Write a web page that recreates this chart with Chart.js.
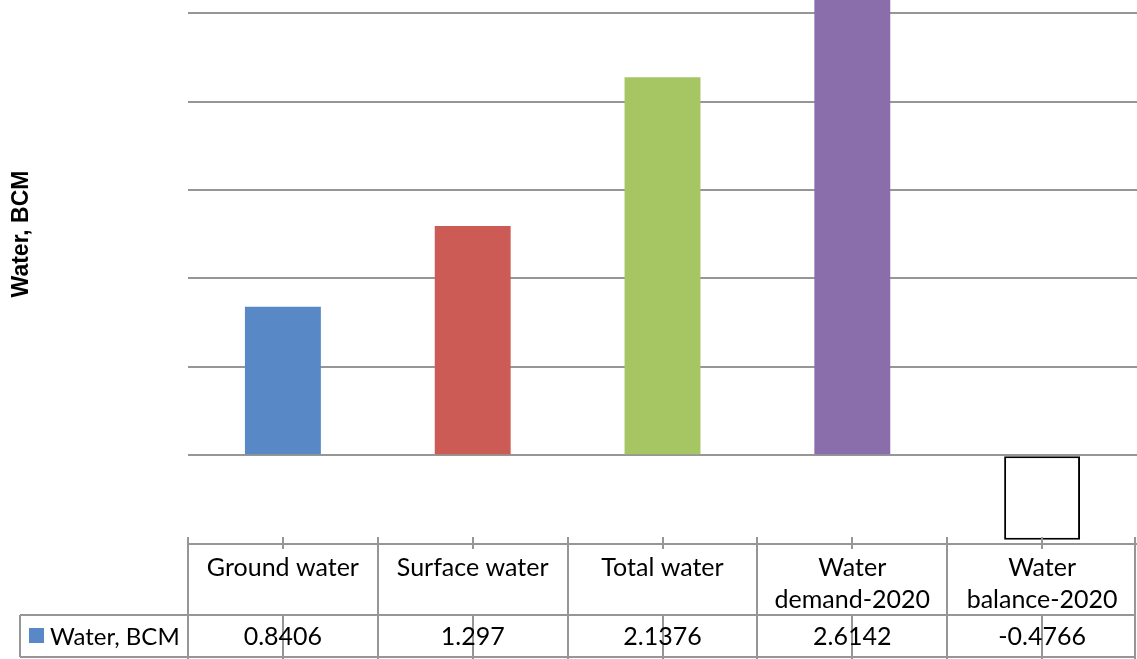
<!DOCTYPE html>
<html>
<head>
<meta charset="utf-8">
<script src="https://cdn.jsdelivr.net/npm/chart.js@4/dist/chart.umd.min.js"></script>
<style>
  html, body { margin: 0; padding: 0; background: #ffffff; }
  #c { display: block; }
</style>
</head>
<body>
<canvas id="c" width="1137" height="659" style="width:1137px;height:659px"></canvas>
<script>
// ---- data ----
const categories = [["Ground water"], ["Surface water"], ["Total water"], ["Water", "demand-2020"], ["Water", "balance-2020"]];
const seriesName = "Water, BCM";
const values = [0.8406, 1.297, 2.1376, 2.6142, -0.4766];
const valueLabels = ["0.8406", "1.297", "2.1376", "2.6142", "-0.4766"];
const yTicks = [-0.5, 0, 0.5, 1, 1.5, 2, 2.5];
const yTitle = "Water, BCM";
const barColors = ["#5889C6", "#CC5B56", "#A5C663", "#8A6DAB", "#FFFFFF"];
const legendColor = "#5889C6";

const GRID = "#969696";
const TABLE_FONT = "Lato";

const yTitlePlugin = {
  id: "yTitlePlugin",
  afterDraw(chart) {
    const ctx = chart.ctx;
    ctx.save();
    ctx.translate(22, 234);
    ctx.rotate(-Math.PI / 2);
    ctx.font = "bold 23px 'Liberation Sans', Arial, sans-serif";
    ctx.fillStyle = "#000";
    ctx.textAlign = "center";
    ctx.textBaseline = "middle";
    ctx.fillText(yTitle, 0, 0);
    ctx.restore();
  }
};

const tablePlugin = {
  id: "tablePlugin",
  afterDraw(chart) {
    const ctx = chart.ctx;
    const x = chart.scales.x;
    const area = chart.chartArea;
    const n = categories.length;
    const half = (x.getPixelForValue(1) - x.getPixelForValue(0)) / 2;
    const top = Math.round(area.bottom);
    const rowY = 615;
    const bottom = 657;
    const legendLeft = 20;
    ctx.save();
    ctx.strokeStyle = GRID;
    ctx.lineWidth = 2;
    const line = (x1, y1, x2, y2) => { ctx.beginPath(); ctx.moveTo(x1, y1); ctx.lineTo(x2, y2); ctx.stroke(); };
    const left = x.getPixelForValue(0) - half;
    const right = Math.min(chart.width - 2, x.getPixelForValue(n - 1) + half);
    line(left, top, right, top);
    line(legendLeft, rowY, right, rowY);
    line(legendLeft, bottom, right, bottom);
    line(legendLeft, rowY, legendLeft, bottom);
    for (let i = 0; i <= n; i++) {
      const bx = Math.min(Math.round(right), Math.round(x.getPixelForValue(0) - half + i * 2 * half));
      line(bx, top - 7, bx, 659);
    }
    for (let i = 0; i < n; i++) {
      const cx = Math.round(x.getPixelForValue(i));
      line(cx, top - 7, cx, top + 5);
      line(cx, rowY + 1, cx, 659);
    }
    // values
    ctx.fillStyle = "#000";
    ctx.font = "25px " + TABLE_FONT;
    ctx.textAlign = "center";
    ctx.textBaseline = "middle";
    for (let i = 0; i < n; i++) {
      ctx.fillText(valueLabels[i], x.getPixelForValue(i), 637);
    }
    // legend
    ctx.fillStyle = legendColor;
    ctx.fillRect(29, 628, 15, 15);
    ctx.fillStyle = "#000";
    ctx.font = "24px " + TABLE_FONT;
    ctx.textAlign = "left";
    ctx.fillText(seriesName, 50, 637);
    ctx.restore();
  }
};

new Chart(document.getElementById("c"), {
  type: "bar",
  data: {
    labels: categories,
    datasets: [{
      label: seriesName,
      data: values,
      backgroundColor: barColors,
      borderColor: "#000000",
      borderWidth: [0, 0, 0, 0, 2],
      borderSkipped: false,
      barPercentage: 0.4,
      categoryPercentage: 1
    }]
  },
  options: {
    responsive: false,
    animation: false,
    devicePixelRatio: 1,
    layout: { padding: { left: 188, right: -2, top: 0, bottom: 34 } },
    plugins: { legend: { display: false }, tooltip: { enabled: false }, title: { display: false } },
    scales: {
      x: {
        grid: { display: false, drawTicks: false },
        border: { display: false },
        ticks: {
          color: "#000",
          font: { family: TABLE_FONT, size: 25, lineHeight: 32 / 25 },
          padding: 8.6,
          maxRotation: 0,
          autoSkip: false
        }
      },
      y: {
        min: -0.5,
        max: 2.574,
        grid: { color: GRID, lineWidth: 2, drawTicks: false },
        border: { display: false },
        ticks: { display: false },
        afterBuildTicks(scale) {
          scale.ticks = yTicks.map(v => ({ value: v }));
        }
      }
    }
  },
  plugins: [yTitlePlugin, tablePlugin]
});
</script>
</body>
</html>
